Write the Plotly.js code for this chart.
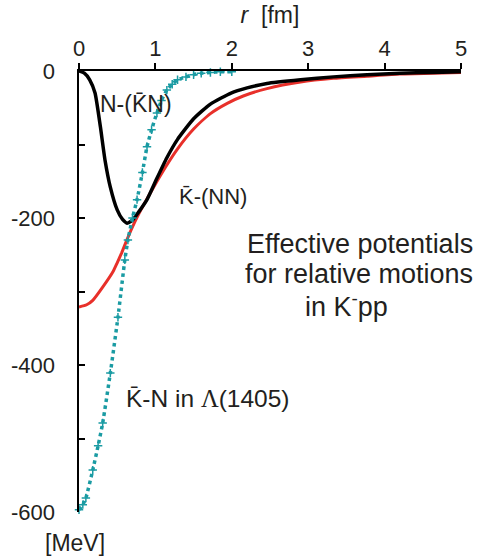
<!DOCTYPE html>
<html>
<head>
<meta charset="utf-8">
<script src="https://cdn.plot.ly/plotly-3.0.1.min.js"></script>
<style>
  html, body { margin: 0; padding: 0; background: #ffffff; }
  #chart { width: 477px; height: 560px; }
</style>
</head>
<body>
<div id="chart"></div>
<script>
// Radial distance r [fm] and effective potential V [MeV] for each pair motion

// N-(K̄N) potential
const rNKN = [0, 0.07, 0.14, 0.21, 0.28, 0.34, 0.41, 0.50, 0.57, 0.63, 0.70, 0.78, 0.89, 1.02, 1.15, 1.29, 1.50, 1.72, 1.99, 2.20, 2.46, 2.90, 3.33, 3.77, 4.20, 4.63, 5.00];
const vNKN = [0, -3, -12, -30, -76, -121, -158, -189, -202, -207, -203, -192, -175, -146, -118, -93, -65, -45, -30, -23, -17, -12, -8, -5, -3, -2, -1];

// K̄-(NN) potential
const rKNN = [0, 0.10, 0.18, 0.31, 0.45, 0.50, 0.56, 0.63, 0.70, 0.78, 0.89, 1.06, 1.29, 1.50, 1.72, 1.94, 2.15, 2.46, 2.90, 3.33, 3.77, 4.20, 4.63, 5.00];
const vKNN = [-321, -318, -312, -294, -272, -261, -247, -229, -212, -195, -174, -143, -106, -79, -58, -44, -34, -24, -15, -10, -7, -4, -3, -2];

// K̄-N potential in Λ(1405)
const rKN = [0, 0.05, 0.09, 0.18, 0.25, 0.31, 0.41, 0.51, 0.60, 0.64, 0.70, 0.76, 0.83, 0.89, 0.95, 1.02, 1.08, 1.15, 1.22, 1.29, 1.40, 1.50, 1.60, 1.72, 1.85, 2.00];
const vKN = [-597, -590, -581, -543, -510, -479, -411, -335, -257, -230, -200, -175, -138, -103, -80, -57, -40, -26, -18, -12, -8, -5, -3, -2, -1, -1];

// Axis ticks
const xTicks = [0, 1, 2, 3, 4, 5];
const yTickVals = [0, -200, -400, -600];
const yTickText = ['0', '-200', '-400', '-600'];

const ink = '#231f20';
const font = 'Liberation Sans, Arial, Helvetica, sans-serif';

const traces = [
  {
    x: rKNN, y: vKNN, type: 'scatter', mode: 'lines',
    line: { color: '#e8302a', width: 3, shape: 'spline', smoothing: 0.5 },
    hoverinfo: 'skip'
  },
  {
    x: rNKN, y: vNKN, type: 'scatter', mode: 'lines',
    line: { color: '#000000', width: 3.5, shape: 'spline', smoothing: 0.5 },
    hoverinfo: 'skip'
  },
  {
    x: rKN, y: vKN, type: 'scatter', mode: 'lines+markers',
    line: { color: '#1a9ba3', width: 3.5, dash: 'dot', shape: 'spline', smoothing: 0.5 },
    marker: { symbol: 'cross-thin', size: 6, color: '#1a9ba3', line: { color: '#1a9ba3', width: 1.5 } },
    cliponaxis: false,
    hoverinfo: 'skip'
  }
];

const layout = {
  width: 477,
  height: 560,
  margin: { l: 79, r: 16, t: 71, b: 48 },
  paper_bgcolor: '#ffffff',
  plot_bgcolor: '#ffffff',
  showlegend: false,
  font: { family: font, color: ink, size: 22 },
  xaxis: {
    side: 'top',
    range: [0, 5],
    tickvals: xTicks,
    ticktext: xTicks.map(String),
    ticks: 'outside', ticklen: 6, tickwidth: 2, tickcolor: '#000',
    ticklabelstandoff: -2,
    showline: true, linecolor: '#000', linewidth: 2.5,
    showgrid: false, zeroline: false,
    tickfont: { family: font, size: 22, color: ink },
    title: { text: '<i>r</i>  [fm]', font: { family: font, size: 23, color: ink }, standoff: 6 }
  },
  yaxis: {
    range: [-600, 0],
    tickvals: yTickVals,
    ticktext: yTickText,
    ticks: 'inside', ticklen: 6, tickwidth: 2, tickcolor: '#000',
    minor: { dtick: 100, tick0: 0, ticks: 'inside', ticklen: 6, tickwidth: 2, tickcolor: '#000', showgrid: false },
    ticklabelstandoff: 17,
    showline: true, linecolor: '#000', linewidth: 2.5,
    showgrid: false, zeroline: false,
    tickfont: { family: font, size: 22, color: ink }
  },
  annotations: [
    { text: 'N-(K\u0304N)', x: 0.25, y: -45, xref: 'x', yref: 'y', xanchor: 'left', yanchor: 'middle',
      showarrow: false, font: { family: font, size: 23, color: ink } },
    { text: 'K\u0304-(NN)', x: 1.28, y: -171, xref: 'x', yref: 'y', xanchor: 'left', yanchor: 'middle',
      showarrow: false, font: { family: font, size: 22, color: ink } },
    { text: 'K\u0304-N in <span style="font-family:\'Liberation Serif\', serif">Λ</span>(1405)', x: 0.59, y: -446, xref: 'x', yref: 'y', xanchor: 'left', yanchor: 'middle',
      showarrow: false, font: { family: font, size: 24.5, color: ink } },
    { text: 'Effective potentials', x: 3.68, y: -235, xref: 'x', yref: 'y', xanchor: 'center', yanchor: 'middle',
      showarrow: false, font: { family: font, size: 27, color: ink } },
    { text: 'for relative motions', x: 3.67, y: -276, xref: 'x', yref: 'y', xanchor: 'center', yanchor: 'middle',
      showarrow: false, font: { family: font, size: 27, color: ink } },
    { text: 'in K<sup>-</sup>pp', x: 3.50, y: -318, xref: 'x', yref: 'y', xanchor: 'center', yanchor: 'middle',
      showarrow: false, font: { family: font, size: 27, color: ink } },
    { text: '[MeV]', x: (75 - 79) / 382, y: (512 - 543) / 441, xref: 'paper', yref: 'paper',
      xanchor: 'center', yanchor: 'middle', showarrow: false,
      font: { family: font, size: 23, color: ink } }
  ]
};

Plotly.newPlot('chart', traces, layout, { displayModeBar: false, staticPlot: true });
</script>
</body>
</html>
